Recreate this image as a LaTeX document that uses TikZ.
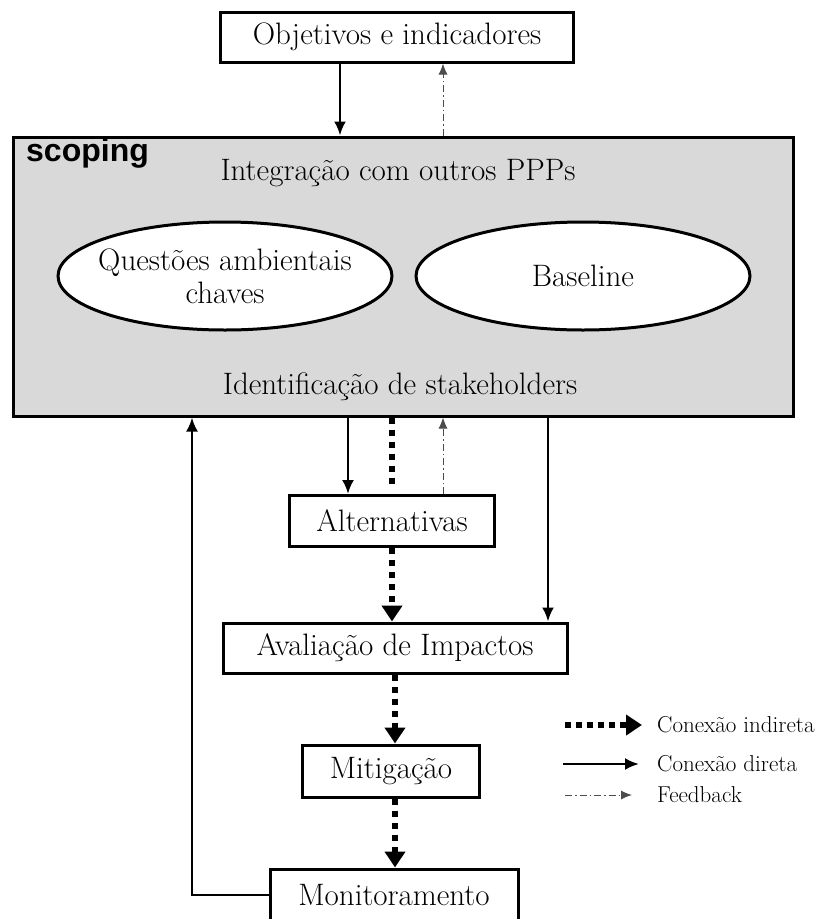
\documentclass[tikz,border=0pt]{standalone}
\usepackage{fontspec}
\newfontfamily\scopingfont{Liberation Sans}
\usetikzlibrary{arrows.meta,shapes.geometric}

\begin{document}
\begin{tikzpicture}[
        x=1pt, y=-1pt,
        stage/.style ={draw, line width=3pt, fill=white, inner sep=0pt, font=\fontsize{31}{35}\selectfont},
        topic/.style ={draw, ellipse, line width=3pt, fill=white, inner xsep=-12pt, inner ysep=0pt, minimum width=334pt, minimum height=108pt, align=center, font=\fontsize{31}{33}\selectfont},
        plain/.style ={inner sep=0pt, font=\fontsize{31}{35}\selectfont},
        direct/.style ={line width=2.5pt, -{Latex[length=14pt,width=12pt]}},
        indirect/.style ={line width=6pt, dash pattern=on 6pt off 6pt, -{Triangle[length=16pt,width=20pt]}},
        feedback/.style ={line width=1pt, black!70, dash pattern=on 7pt off 3pt on 1.5pt off 3pt, -{Latex[length=11pt,width=9pt]}},
        legend/.style ={anchor=west, inner sep=0pt, font=\fontsize{23}{27}\selectfont},
    ]
    \useasboundingbox (0,0) rectangle (824,919);

    \node[stage, fill=black!15, minimum width=780pt, minimum height=279pt] (scoping) at (403,276.5) {};
    \node[anchor=west, inner sep=0pt, font=\scopingfont\bfseries\fontsize{32}{36}\selectfont] (scopinglabel) at (26,153) {scoping};
    \node[plain] (integ) at (398,173) {Integração com outros PPPs};
    \node[topic] (questoes) at (225,276) {Questões ambientais\\chaves};
    \node[topic] (baseline) at (583,276) {Baseline};
    \node[plain] (ident) at (400,387) {Identificação de stakeholders};

    \node[stage, minimum width=353pt, minimum height=50pt] (obj) at (397,37) {Objetivos e indicadores};
    \node[stage, minimum width=205pt, minimum height=51pt] (alt) at (392,521) {Alternativas};
    \node[stage, minimum width=344pt, minimum height=50pt] (aval) at (395,648) {Avaliação de Impactos};
    \node[stage, minimum width=177pt, minimum height=52pt] (mitig) at (391,771) {Mitigação};
    \node[stage, minimum width=248pt, minimum height=52pt] (monit) at (394,895) {Monitoramento};

    \draw[direct] ([xshift=-57pt]obj.south) -- ([xshift=-57pt]obj.south |- scoping.north);
    \draw[feedback] ([xshift=46pt]obj.south |- scoping.north) -- ([xshift=46pt]obj.south);

    \draw[direct] ([xshift=-44pt]alt.north |- scoping.south) -- ([xshift=-44pt]alt.north);
    \draw[indirect, -, shorten >=8pt] (alt.north |- scoping.south) -- (alt.north);
    \draw[feedback] ([xshift=51pt]alt.north) -- ([xshift=51pt]alt.north |- scoping.south);
    \draw[direct] ([xshift=153pt]aval.north |- scoping.south) -- ([xshift=153pt]aval.north);

    \draw[indirect] (alt.south) -- (alt.south |- aval.north);
    \draw[indirect] (aval.south) -- (aval.south |- mitig.north);
    \draw[indirect] ([xshift=4pt]mitig.south) -- ([xshift=4pt]mitig.south |- monit.north);
    \draw[direct] (monit.west) -| ([xshift=-211pt]scoping.south);

    % legenda
    \node[legend] (lgindirect) at (657,725) {Conexão indireta};
    \node[legend] (lgdirect) at (657,764) {Conexão direta};
    \node[legend] (lgfeedback) at (657,795) {Feedback};
    \coordinate (li) at (565,725);
    \coordinate (ld) at (563,764);
    \coordinate (lf) at (565,795);
    \draw[indirect, dash pattern=on 6pt off 5pt, shorten >=15pt] (li) -- (lgindirect.west);
    \draw[direct, shorten >=18pt] (ld) -- (lgdirect.west);
    \draw[feedback, shorten >=25pt] (lf) -- (lgfeedback.west);
\end{tikzpicture}
\end{document}
